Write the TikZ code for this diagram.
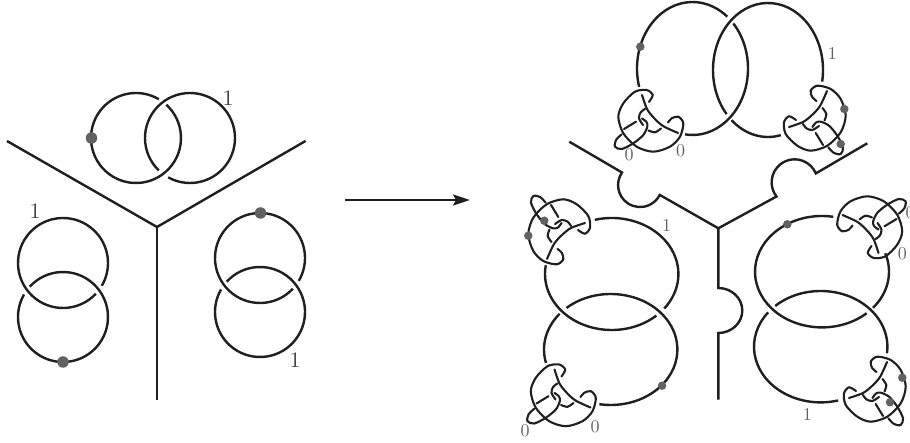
\documentclass[tikz,border=0pt]{standalone}
\usepackage{amsmath}
\usepackage{tikz}
\usetikzlibrary{arrows,arrows.meta,positioning}
\tikzset{
	strand/.style={line width=2.4pt,color=black!88,line join=miter},
	thin strand/.style={line width=2.1pt,color=black!88,line cap=round},
	bigdot/.style={circle,fill=black!62,inner sep=0pt,minimum size=11.5pt},
	smalldot/.style={circle,fill=black!62,inner sep=0pt,minimum size=8.5pt},
	biglabel/.style={scale=2.2,color=black!75,inner sep=0pt},
	smalllabel/.style={scale=1.8,color=black!62,inner sep=0pt},
}
% piece of a ring: centre, x radius, y radius, start and end angle
\newcommand{\ringarc}[5]{\draw[strand] (#1) ++(#4:#2 and #3) arc[start angle=#4,end angle=#5,x radius=#2,y radius=#3];}
% the little tangle: place, rotation
\newcommand{\clasp}[2]{
	\begin{scope}[shift={(#1)},rotate=#2]
		\draw[thin strand] plot[smooth] coordinates {(-8,-25) (-3,-11) (4,-2) (13,6) (28,13)};
		\draw[thin strand] plot[smooth] coordinates {(-1,-18) (2.7,-25) (-3.3,-30) (-15,-28.3) (-26.7,-16.7) (-31.7,-3.3) (-26.7,13.3) (-13.3,26.7) (3.3,31.7) (20,26.7) (30,16.7) (33.3,3.3) (28.3,-3.3) (21.7,-1.7) (18,2.5)};
		\draw[thin strand] plot[smooth] coordinates {(11,8.5) (5,12.3) (-1.5,10.5)};
		\draw[thin strand] plot[smooth] coordinates {(-7,5) (-11,-1.7) (-9.3,-7.7) (-5,-11)};
		\draw[thin strand] plot[smooth] coordinates {(-8,-1.5) (-3.5,2) (-2.7,6.7) (-6.7,15) (-16.7,23.3) (-28.3,29) (-35,26.7) (-34,20) (-28.3,14.3)};
		\draw[thin strand] (-26,9) -- (-14,1.7);
	\end{scope}
}

\begin{document}
\begin{tikzpicture}[x=1pt,y=1pt,yscale=-1]
	\useasboundingbox (0,0) rectangle (910,443);

	% left tripod
	\coordinate (lc) at (157,227);
	\coordinate (la) at (7,141);
	\coordinate (lb) at (305.5,141);
	\coordinate (ld) at (157,400);
	\draw[strand] (la) -- (lc) -- (lb);
	\draw[strand] (lc) -- (ld);

	% left rings
	\ringarc{136,138}{45}{45}{-47.7}{300.5}
	\ringarc{190,138}{45}{45}{134}{479}
	\ringarc{63,263}{45}{45}{43}{390.5}
	\ringarc{63,317}{45}{45}{222.3}{570}
	\ringarc{260,258}{45}{45}{43}{390.5}
	\ringarc{260,312}{45}{45}{222.3}{570}
	\node[bigdot] (dtop) at (91.5,138) {};
	\node[bigdot] (dleft) at (63,362) {};
	\node[bigdot] (dright) at (260.5,213) {};
	\node[biglabel] (ltop) at (228,98) {1};
	\node[biglabel] (lleft) at (35,211) {1};
	\node[biglabel] (lright) at (295,360) {1};

	% arrow
	\coordinate (arl) at (345,200);
	\coordinate (arr) at (470,200);
	\draw[strand,-{Stealth[length=17pt,width=11pt,inset=3pt]}] (arl) -- (arr);

	% right tripod with bumps
	\coordinate (rc) at (718.3,228.3);
	\draw[strand] (569.3,141.7) -- (622,172.5) arc[start angle=214.8,end angle=26.6,radius=22]
		-- (rc) -- (776.5,196.5) arc[start angle=142,end angle=337.2,radius=23]
		-- (867.3,143.3);
	\draw[strand] (rc) -- (718.3,288) arc[start angle=-90,end angle=90,x radius=24,y radius=22.5]
		-- (718.3,399.5);

	% top pair
	\ringarc{692.5,68.5}{55.5}{66.5}{97.8}{-42.6}
	\ringarc{692.5,68.5}{55.5}{66.5}{-51.2}{-196}
	\ringarc{768,70}{55}{67}{10}{-221.2}
	\ringarc{768,70}{55}{67}{131.5}{76.6}
	% left pair
	\ringarc{611.7,274}{66.7}{56}{-104.7}{38}
	\ringarc{611.7,274}{66.7}{56}{48}{189}
	\ringarc{610.7,349.5}{66.7}{55.5}{-131.5}{99.8}
	\ringarc{610.7,349.5}{66.7}{55.5}{220}{166}
	% right pair
	\ringarc{822,271.7}{67}{55.7}{-80.3}{-311.8}
	\ringarc{822,271.7}{67}{55.7}{40.4}{-19.3}
	\ringarc{820.7,346.7}{66.7}{55.7}{-133}{6.8}
	\ringarc{820.7,346.7}{66.7}{55.7}{218}{74.8}

	% clasps
	\clasp{650,120}{0}
	\clasp{562.5,394.5}{0}
	\clasp{560,231}{90}
	\clasp{870.5,228}{180}
	\clasp{814,119}{-90}
	\clasp{874,390}{-90}

	\node[smalldot] (d1) at (640.3,46.7) {};
	\node[smalldot] (d2) at (844.3,109) {};
	\node[smalldot] (d3) at (840.7,144) {};
	\node[smalldot] (d4) at (528.3,235.7) {};
	\node[smalldot] (d5) at (544.3,220.7) {};
	\node[smalldot] (d6) at (662,385.7) {};
	\node[smalldot] (d7) at (787.3,224.3) {};
	\node[smalldot] (d8) at (902.3,377.7) {};
	\node[smalldot] (d9) at (890,402.3) {};

	\node[smalllabel] (n1) at (832.3,54) {1};
	\node[smalllabel] (n2) at (666.7,226) {1};
	\node[smalllabel] (n3) at (807.3,415) {1};
	\node[smalllabel] (z1) at (629,155) {0};
	\node[smalllabel] (z2) at (680.7,150.5) {0};
	\node[smalllabel] (z3) at (525,431) {0};
	\node[smalllabel] (z4) at (595,426.5) {0};
	\node[smalllabel] (z5) at (902.3,254) {0};
	\node[smalllabel] (z6) at (910,213) {0};
\end{tikzpicture}
\end{document}
